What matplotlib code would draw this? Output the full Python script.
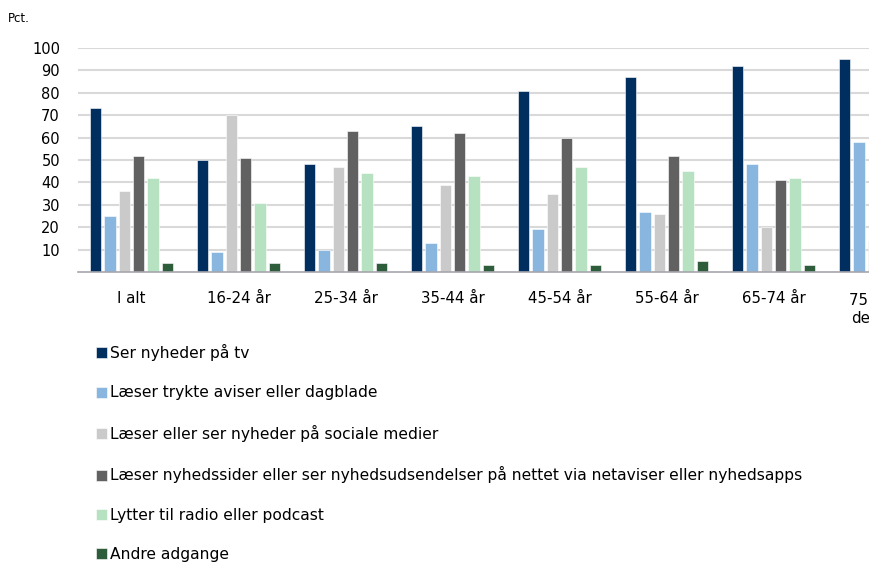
import numpy as np
import matplotlib
matplotlib.use("Agg")
import matplotlib.pyplot as plt

plt.rcParams['font.family'] = ['DejaVu Sans']

# data
grupper = ["I alt", "16-24 år", "25-34 år", "35-44 år", "45-54 år",
           "55-64 år", "65-74 år", "75 år og\nderover"]
serier = ["Ser nyheder på tv",
          "Læser trykte aviser eller dagblade",
          "Læser eller ser nyheder på sociale medier",
          "Læser nyhedssider eller ser nyhedsudsendelser på nettet via netaviser eller nyhedsapps",
          "Lytter til radio eller podcast",
          "Andre adgange"]
tv = [73, 50, 48, 65, 81, 87, 92, 95]
aviser = [25, 9, 10, 13, 19, 27, 48, 58]
sociale = [36, 70, 47, 39, 35, 26, 20, 14]
netaviser = [52, 51, 63, 62, 60, 52, 41, 30]
radio = [42, 31, 44, 43, 47, 45, 42, 40]
andre = [4, 4, 4, 3, 3, 5, 3, 3]
farver = ["#002f5f", "#88b6df", "#cacaca", "#616161", "#b6e2c2", "#2e5d3b"]

vaerdier = [tv, aviser, sociale, netaviser, radio, andre]

W, H = 870, 564
fig = plt.figure(figsize=(W / 100, H / 100), dpi=100)
# plot area runs past the right edge, like the cropped original
ax = fig.add_axes([78 / W, 1 - 272 / H, 856 / W, 224 / H])

x = np.arange(len(grupper))
bredde = 0.105
afstand = 0.1345
for i, (navn, v) in enumerate(zip(serier, vaerdier)):
    ax.bar(x + (i - 2.5) * afstand, v, bredde, color=farver[i], label=navn,
           edgecolor="white", linewidth=0.4, zorder=3)

ax.set_xlim(-0.5, len(grupper) - 0.5)
ax.set_ylim(0, 100)
ax.set_yticks(range(10, 101, 10))
ax.yaxis.grid(True, color="#d9d9d9", linewidth=1.5, zorder=0)
ax.set_xticks(x)
ax.set_xticklabels(grupper, fontsize=10.8, linespacing=1.25)
ax.tick_params(axis="x", length=0, pad=14)
ax.tick_params(axis="y", length=0, pad=13, labelsize=10.5)
for s in ["top", "right", "left"]:
    ax.spines[s].set_visible(False)
ax.spines["bottom"].set_color("#a6a6ad")
ax.spines["bottom"].set_linewidth(1.2)
ax.spines["bottom"].set_zorder(4)

fig.text(8 / W, 1 - 18 / H, "Pct.", fontsize=8.5, va="center", ha="left")

fig.legend(loc="upper left", bbox_to_anchor=(96 / W, 1 - 344 / H),
           frameon=False, ncol=1, fontsize=11.15, handlelength=0.72,
           handleheight=0.72, handletextpad=0.2, labelspacing=1.58,
           borderaxespad=0, borderpad=0)

fig.savefig("out.png", dpi=100)
